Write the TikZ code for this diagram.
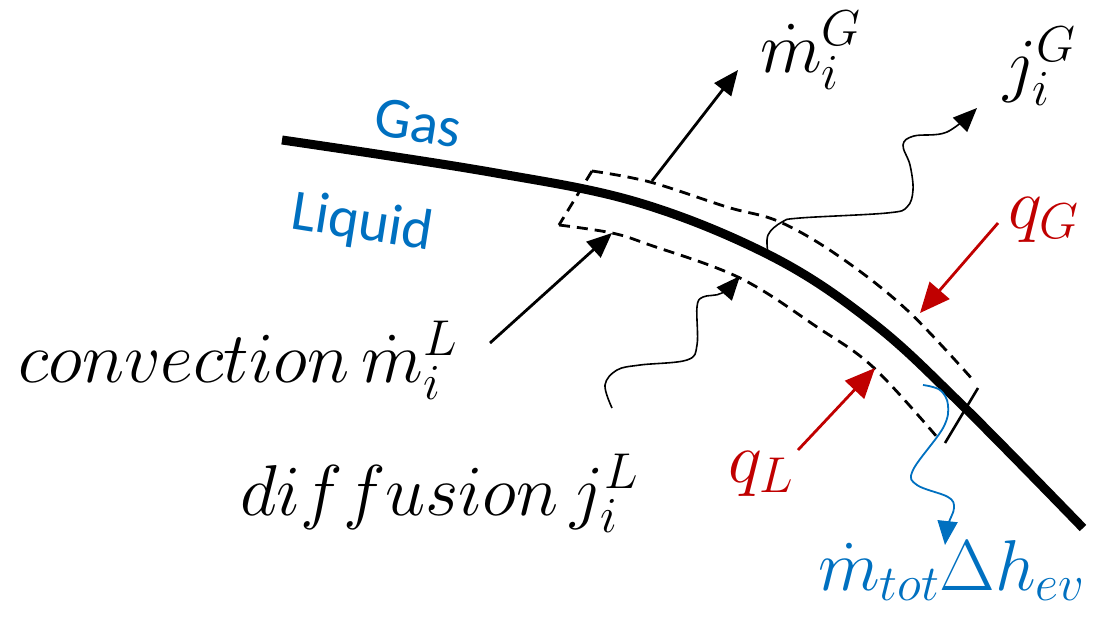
\RequirePackage{fix-cm}
\documentclass[tikz,border=0pt]{standalone}
\usepackage{fontspec}
\newfontfamily\calibri{Carlito}
\usetikzlibrary{arrows.meta}
\definecolor{myblue}{RGB}{0,112,192}
\definecolor{myred}{RGB}{192,0,0}
\begin{document}
\begin{tikzpicture}[x=1pt,y=-1pt,
  iface/.style={line width=9pt},
  band/.style={line width=2.8pt,dash pattern=on 11pt off 7pt},
  edge/.style={line width=2.6pt},
  flow/.style={line width=2.8pt,-{Triangle[length=25pt,width=21pt]}},
  wavy/.style={line width=1.6pt,-{Triangle[length=24pt,width=20pt]}},
  heat/.style={line width=2.8pt,myred,-{Triangle[length=30pt,width=26pt]}},
  lab/.style={font=\fontsize{72}{80}\selectfont,inner sep=0pt,anchor=base west},
  phase/.style={font=\calibri\fontsize{58}{62}\selectfont,text=myblue,rotate=-9,inner sep=0pt}
]
\useasboundingbox (0,0) rectangle (1100,619);

% interface
\draw[iface] plot[smooth,tension=0.6] coordinates{(282,140)(490,172)(640,203)(773,257)(873,323)(960,403)(1083,528)};

% control volume band
\draw[band] plot[smooth,tension=0.6] coordinates{(592,171)(650,182)(727,207)(780,222)(840,257)(907,310)(973,380)};
\draw[band] (592,171) -- (559,225);
\draw[band] plot[smooth,tension=0.6] coordinates{(559,225)(612,233)(650,245)(740,278)(817,327)(873,367)(937,437)};
\coordinate (ra) at (978,388);
\coordinate (rb) at (945,443);
\draw[edge] (ra) -- (rb);

% phase labels
\node[phase] (gas) at (418,123) {Gas};
\node[phase] (liq) at (362,224) {Liquid};

% labels
\node[lab] (conv) at (18,382) {$convection\,\dot m_i^L$};
\node[lab] (diff) at (240,515) {$diffusion\,j_i^L$};
\node[lab] (mG) at (760,72) {$\dot m_i^G$};
\node[lab] (jG) at (1003,88) {$j_i^G$};
\node[lab,text=myred] (qG) at (1008,228) {$q_G$};
\node[lab,text=myred] (qL) at (728,482) {$q_L$};
\node[lab,text=myblue] (mtot) at (818,590) {$\dot m_{tot}\Delta h_{ev}$};

% convective arrows
\coordinate (mGs) at (652,181);
\coordinate (mGe) at (738,70);
\draw[flow] (mGs) -- (mGe);
\coordinate (cLs) at (490,343);
\coordinate (cLe) at (612,233);
\draw[flow] (cLs) -- (cLe);

% diffusive arrows
\draw[wavy] plot[smooth,tension=0.6] coordinates{(768,253)(768,235)(782,222)(800,218)(887,213)(907,207)(913,190)(910,165)(903,145)(914,136)(947,132)(977,108)};
\draw[wavy] plot[smooth,tension=0.6] coordinates{(612,408)(605,385)(617,370)(640,365)(687,360)(697,345)(697,307)(703,297)(722,293)(740,276)};

% heat fluxes
\coordinate (qGs) at (998,223);
\coordinate (qGe) at (920,313);
\draw[heat] (qGs) -- (qGe);
\coordinate (qLs) at (798,450);
\coordinate (qLe) at (875,368);
\draw[heat] (qLs) -- (qLe);

% evaporation enthalpy
\draw[wavy,myblue,line width=1.8pt] plot[smooth,tension=0.6] coordinates{(923,385)(940,390)(948,405)(943,428)(913,470)(917,485)(948,497)(954,508)(948,525)(945,545)};
\end{tikzpicture}
\end{document}
